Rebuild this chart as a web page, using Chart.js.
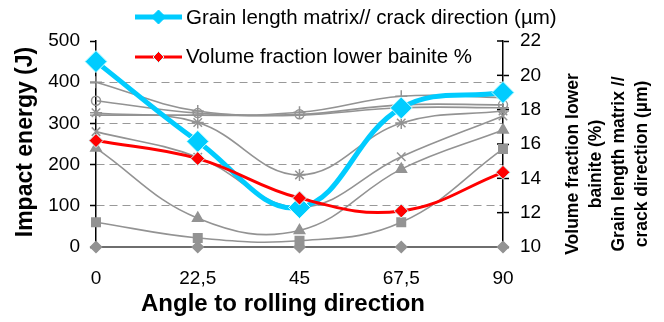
<!DOCTYPE html>
<html>
<head>
<meta charset="utf-8">
<script src="https://cdn.jsdelivr.net/npm/chart.js@4.4.0/dist/chart.umd.min.js"></script>
<style>
  html, body { margin: 0; padding: 0; background: #fff; }
  canvas { display: block; }
</style>
</head>
<body>
<canvas id="chart" width="664" height="322"></canvas>
<script>
// categories
const angles = ['0', '22,5', '45', '67,5', '90'];

// right axis series (% / µm)
const grainLength  = [20.8, 16.15, 12.3, 18.1, 19.0];
const lowerBainite = [16.2, 15.15, 12.85, 12.1, 14.35];

// impact energy curves (J), left axis
const energyPlus    = [400, 330, 327, 366, 363];
const energyCircle  = [355, 325, 322, 345, 345];
const energyDash    = [320, 320, 320, 338, 338];
const energyStar    = [326, 302, 175, 301, 330];
const energyCross   = [280, 218, 97, 219, 318];
const energyTri     = [240, 70, 40, 189, 284];
const energySquare  = [60, 22, 15, 60, 238];
const energyDiamond = [0, 0, 0, 0, 0];

// text
const legendLabels = ['Grain length matrix// crack direction (µm)', 'Volume fraction lower bainite %'];
const xTitle = 'Angle to rolling direction';
const yTitle = 'Impact energy (J)';
const y1TitleA = ['Volume fraction lower', 'bainite (%)'];
const y1TitleB = ['Grain length matrix //', 'crack direction (µm)'];

const FONT = "'Liberation Sans', Arial, sans-serif";
const gray = '#939393';
const cyan = '#00CCFF';
const red = '#FF0000';
const axisColor = '#000';

function grayLine(data, style, radius, hollow) {
  return {
    data, yAxisID: 'y',
    borderColor: gray, borderWidth: 1.6, tension: 0.4, clip: false,
    pointStyle: style, pointRadius: radius,
    pointBorderColor: gray, pointBorderWidth: 1.5,
    pointBackgroundColor: hollow ? 'rgba(0,0,0,0)' : gray
  };
}

function diamond(ctx, x, y, r, fill, stroke) {
  ctx.beginPath();
  ctx.moveTo(x, y - r); ctx.lineTo(x + r, y); ctx.lineTo(x, y + r); ctx.lineTo(x - r, y);
  ctx.closePath();
  ctx.fillStyle = fill; ctx.fill();
  ctx.strokeStyle = stroke; ctx.lineWidth = 1; ctx.stroke();
}

function rotText(ctx, text, x, y) {
  ctx.save();
  ctx.translate(x, y);
  ctx.rotate(-Math.PI / 2);
  ctx.fillText(text, 0, 0);
  ctx.restore();
}

const annotate = {
  id: 'annotate',
  beforeDatasetsDraw(chart) {
    // inner half of the right axis cross ticks
    const ctx = chart.ctx, s = chart.scales.y1;
    ctx.save();
    ctx.strokeStyle = axisColor; ctx.lineWidth = 1.5;
    s.ticks.forEach(t => {
      const py = s.getPixelForValue(t.value);
      ctx.beginPath(); ctx.moveTo(s.left - 6, py); ctx.lineTo(s.left, py); ctx.stroke();
    });
    ctx.restore();
  },
  afterDraw(chart) {
    const ctx = chart.ctx;
    ctx.save();
    ctx.fillStyle = '#000';
    ctx.textAlign = 'center';
    ctx.textBaseline = 'middle';

    ctx.font = 'bold 24px ' + FONT;
    ctx.fillText(xTitle, 283, 304);
    ctx.font = 'bold 23px ' + FONT;
    rotText(ctx, yTitle, 26, 142);

    ctx.font = 'bold 17.5px ' + FONT;
    rotText(ctx, y1TitleA[0], 573, 164);
    rotText(ctx, y1TitleA[1], 596, 164);
    rotText(ctx, y1TitleB[0], 619, 164);
    rotText(ctx, y1TitleB[1], 642, 164);

    // legend
    ctx.textAlign = 'left';
    ctx.textBaseline = 'alphabetic';
    ctx.font = '20.5px ' + FONT;
    const rows = [
      { y: 17, color: cyan, width: 5, r: 7, label: legendLabels[0], base: 23.5 },
      { y: 57, color: red, width: 3, r: 5.5, label: legendLabels[1], base: 63 }
    ];
    rows.forEach(row => {
      ctx.strokeStyle = row.color; ctx.lineWidth = row.width;
      ctx.beginPath(); ctx.moveTo(135, row.y); ctx.lineTo(182, row.y); ctx.stroke();
      diamond(ctx, 158.5, row.y, row.r, row.color, row.color === red ? '#ccffff' : row.color);
      ctx.fillStyle = '#000';
      ctx.fillText(row.label, 186, row.base);
    });
    ctx.restore();
  }
};

const tickFont = { family: FONT, size: 19 };

new Chart(document.getElementById('chart'), {
  type: 'line',
  data: {
    labels: angles,
    datasets: [
      {
        data: lowerBainite, yAxisID: 'y1',
        borderColor: red, borderWidth: 3, tension: 0.4, clip: false,
        pointStyle: 'rectRot', pointRadius: 7,
        pointBackgroundColor: red, pointBorderColor: '#ccffff', pointBorderWidth: 1
      },
      {
        data: grainLength, yAxisID: 'y1',
        borderColor: cyan, borderWidth: 5, tension: 0.4, clip: false,
        pointStyle: 'rectRot', pointRadius: 11,
        pointBackgroundColor: cyan, pointBorderColor: '#ccffff', pointBorderWidth: 1
      },
      grayLine(energyPlus, 'cross', 6),
      grayLine(energyCircle, 'circle', 4.5, true),
      grayLine(energyDash, 'line', 6),
      grayLine(energyStar, 'star', 6),
      grayLine(energyCross, 'crossRot', 6),
      grayLine(energyTri, 'triangle', 6),
      grayLine(energySquare, 'rect', 6),
      grayLine(energyDiamond, 'rectRot', 5.5)
    ]
  },
  options: {
    responsive: false,
    animation: false,
    events: [],
    layout: { padding: { top: 41, left: 0, right: 0, bottom: 0 } },
    plugins: { legend: { display: false }, tooltip: { enabled: false } },
    scales: {
      x: {
        offset: false,
        grid: { drawOnChartArea: false, tickLength: 5, tickColor: axisColor, tickWidth: 1.5 },
        border: { color: axisColor, width: 2 },
        ticks: { font: tickFont, color: '#000', padding: 15, maxRotation: 0, autoSkip: false },
        afterFit: s => { s.height = 75; }
      },
      y: {
        position: 'left', min: 0, max: 500,
        ticks: { stepSize: 100, padding: 10, font: tickFont, color: '#000' },
        grid: {
          color: c => (c.tick && c.tick.value > 0 && c.tick.value < 500) ? '#999' : 'rgba(0,0,0,0)',
          lineWidth: 1, tickLength: 6, tickColor: axisColor, tickWidth: 1.5
        },
        border: { color: axisColor, width: 1.5, dash: [8, 5] },
        afterFit: s => { s.width = 96; }
      },
      y1: {
        position: 'right', min: 10, max: 22,
        ticks: { stepSize: 2, padding: 11, font: tickFont, color: '#000' },
        grid: { drawOnChartArea: false, tickLength: 6, tickColor: axisColor, tickWidth: 1.5 },
        border: { color: axisColor, width: 1.5 },
        afterFit: s => { s.width = 161; }
      }
    }
  },
  plugins: [annotate]
});
</script>
</body>
</html>
